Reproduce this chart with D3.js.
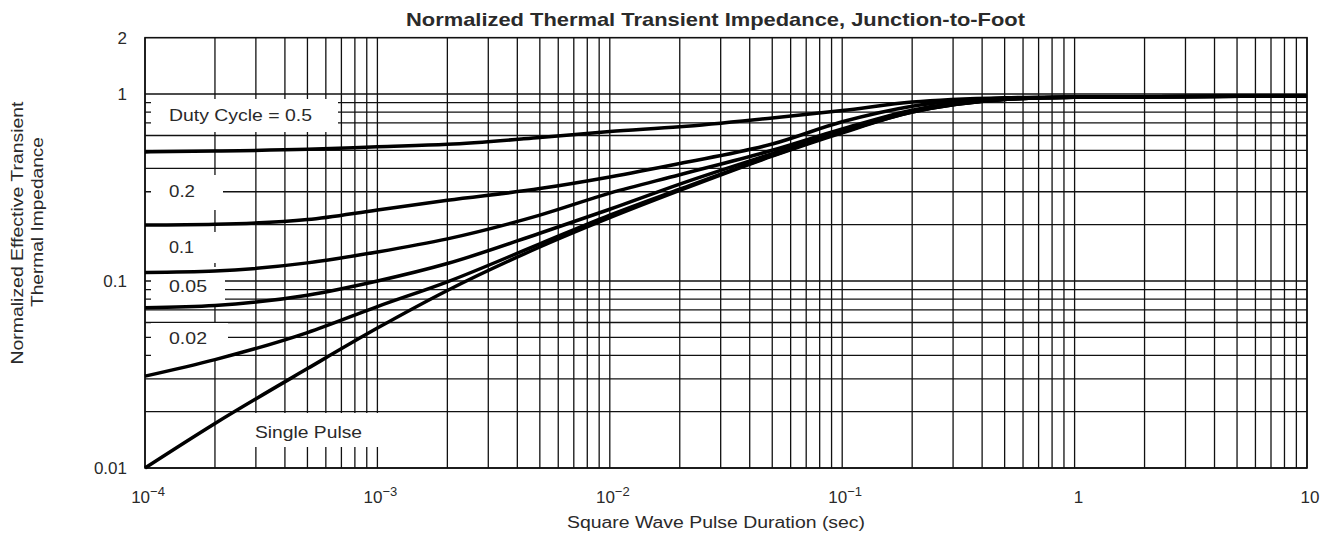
<!DOCTYPE html>
<html><head><meta charset="utf-8">
<script src="https://cdn.jsdelivr.net/npm/d3@7"></script>
<style>
body{margin:0;background:#fff}
svg{display:block}
text{font-family:"Liberation Sans",Arial,Helvetica,sans-serif;fill:#2a2a2a}
</style>
</head><body>
<svg id="chart" width="1332" height="536"></svg>
<script>
// ---- data ----
const durations = [1e-4, 2e-4, 5e-4, 1e-3, 2e-3, 5e-3, 1e-2, 2e-2, 5e-2, 0.1, 0.2, 0.5, 1, 10];
const duty05  = [0.490, 0.495, 0.506, 0.522, 0.538, 0.585, 0.630, 0.668, 0.745, 0.815, 0.905, 0.955, 0.965, 0.975];
const duty02  = [0.199, 0.201, 0.213, 0.240, 0.270, 0.312, 0.360, 0.425, 0.540, 0.710, 0.860, 0.948, 0.962, 0.975];
const duty01  = [0.111, 0.113, 0.125, 0.143, 0.168, 0.225, 0.295, 0.370, 0.500, 0.650, 0.820, 0.940, 0.962, 0.975];
const duty005 = [0.072, 0.074, 0.084, 0.100, 0.124, 0.180, 0.242, 0.330, 0.480, 0.635, 0.805, 0.937, 0.962, 0.975];
const duty002 = [0.031, 0.038, 0.053, 0.073, 0.099, 0.158, 0.225, 0.310, 0.468, 0.625, 0.800, 0.935, 0.962, 0.975];
const single  = [0.010, 0.0173, 0.034, 0.056, 0.089, 0.152, 0.218, 0.305, 0.465, 0.620, 0.800, 0.935, 0.962, 0.975];
const seriesNames = ["Duty Cycle = 0.5", "0.2", "0.1", "0.05", "0.02", "Single Pulse"];
const seriesValues = [duty05, duty02, duty01, duty005, duty002, single];
const xTickLabels = [["10","−4"],["10","−3"],["10","−2"],["10","−1"],["1",""],["10",""]];
const xTickValues = [1e-4, 1e-3, 1e-2, 1e-1, 1, 10];
const yTickLabels = ["0.01", "0.1", "1", "2"];
const yTickValues = [0.01, 0.1, 1, 2];
const title = "Normalized Thermal Transient Impedance, Junction-to-Foot";
const xTitle = "Square Wave Pulse Duration (sec)";
const yTitle = ["Normalized Effective Transient", "Thermal Impedance"];

// ---- scales ----
const svg = d3.select("#chart");
const L = 145, R = 1307, B = 468, T = 37.7;
const x = d3.scaleLog().domain([1e-4, 10]).range([L, R]);
const y = d3.scaleLog().domain([0.01, 2]).range([B, T]);

// grid values
const xGrid = [];
for (let e = -4; e <= 0; e++) for (let m = 1; m <= 9; m++) xGrid.push(m * Math.pow(10, e));
xGrid.push(10);
const yGrid = [];
for (let e = -2; e <= -1; e++) for (let m = 1; m <= 9; m++) yGrid.push(m * Math.pow(10, e));
yGrid.push(1);

const g = svg.append("g");
g.selectAll("line.vx").data(xGrid).join("line")
  .attr("x1", d => x(d)).attr("x2", d => x(d)).attr("y1", T).attr("y2", B)
  .attr("stroke", "#111").attr("stroke-width", 1.3);
g.selectAll("line.hy").data(yGrid).join("line")
  .attr("x1", L).attr("x2", R).attr("y1", d => y(d)).attr("y2", d => y(d))
  .attr("stroke", "#111").attr("stroke-width", 1.3);

// white label boxes interrupting the grid
const boxes = [
  [151, 99, 338, 132],
  [151, 175, 223, 210],
  [151, 232, 225, 263],
  [151, 267, 225, 305],
  [151, 323, 228, 360],
  [249, 413, 388, 447]
];
g.selectAll("rect.box").data(boxes).join("rect")
  .attr("x", d => d[0]).attr("y", d => d[1])
  .attr("width", d => d[2] - d[0]).attr("height", d => d[3] - d[1])
  .attr("fill", "#fff");

// frame
g.append("rect").attr("x", L).attr("y", T).attr("width", R - L).attr("height", B - T)
  .attr("fill", "none").attr("stroke", "#111").attr("stroke-width", 1.6);

// curves
const line = d3.line().x(d => x(d[0])).y(d => y(d[1])).curve(d3.curveMonotoneX);
seriesValues.forEach(vals => {
  g.append("path").datum(durations.map((t, i) => [t, vals[i]]))
    .attr("d", line).attr("fill", "none").attr("stroke", "#000")
    .attr("stroke-width", 3.5).attr("stroke-linejoin", "round");
});

// curve labels
const labelPos = [
  [169, 121, 143], [169, 197, 26], [169, 253, 25], [169, 292, 38], [169, 344, 38], [255, 438, 107]
];
seriesNames.forEach((n, i) => {
  g.append("text").attr("x", labelPos[i][0]).attr("y", labelPos[i][1])
    .attr("font-size", 17).attr("textLength", labelPos[i][2]).attr("lengthAdjust", "spacingAndGlyphs")
    .text(n);
});

// y tick labels
yTickValues.forEach((v, i) => {
  g.append("text").attr("x", 127).attr("y", y(v) + 6).attr("text-anchor", "end")
    .attr("font-size", 17).text(yTickLabels[i]);
});

// x tick labels
xTickValues.forEach((v, i) => {
  const t = g.append("text").attr("x", x(v) + (i === 4 ? 4 : 3)).attr("y", 503).attr("text-anchor", "middle")
    .attr("font-size", 17);
  t.append("tspan").text(xTickLabels[i][0]);
  if (xTickLabels[i][1]) t.append("tspan").attr("dy", -7).attr("font-size", 13).text(xTickLabels[i][1]);
});

// titles
svg.append("text").attr("x", 715.5).attr("y", 26).attr("text-anchor", "middle")
  .attr("font-size", 19).attr("font-weight", "bold").attr("textLength", 619).attr("lengthAdjust", "spacingAndGlyphs")
  .text(title);
svg.append("text").attr("x", 716).attr("y", 528).attr("text-anchor", "middle")
  .attr("font-size", 16).attr("textLength", 298).attr("lengthAdjust", "spacingAndGlyphs")
  .text(xTitle);
svg.append("text").attr("transform", "translate(23,233) rotate(-90)").attr("text-anchor", "middle")
  .attr("font-size", 16).attr("textLength", 263).attr("lengthAdjust", "spacingAndGlyphs")
  .text(yTitle[0]);
svg.append("text").attr("transform", "translate(43,222) rotate(-90)").attr("text-anchor", "middle")
  .attr("font-size", 16).attr("textLength", 170).attr("lengthAdjust", "spacingAndGlyphs")
  .text(yTitle[1]);
</script>
</body></html>
